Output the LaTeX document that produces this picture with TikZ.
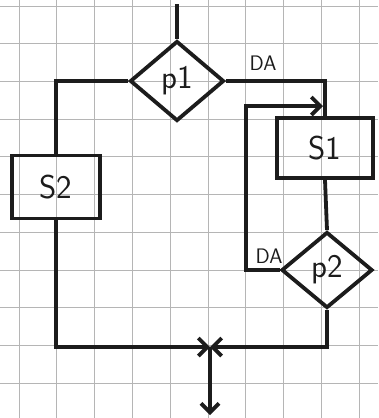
\documentclass[tikz,border=0pt]{standalone}
\usepackage{xcolor}
\usepackage{tikz}
\usetikzlibrary{arrows.meta,positioning,shapes.geometric}
\definecolor{ink}{HTML}{1C1C1C}
\definecolor{paperline}{HTML}{B5B5B5}

\begin{document}
\begin{tikzpicture}[x=1pt,y=-1pt, every node/.style={font=\sffamily\fontsize{33}{36}\selectfont,text=ink}, box/.style={draw=ink,line width=3.8pt,minimum width=94pt,minimum height=60pt}, dia/.style={diamond,draw=ink,line width=3.8pt,minimum width=94pt,minimum height=80pt,inner sep=0pt}, wire/.style={draw=ink,line width=3.8pt}, arr/.style={wire,-{Straight Barb[length=9pt,width=18pt,line width=3.8pt]}}, tag/.style={font=\sffamily\fontsize{21}{23}\selectfont}, gridln/.style={draw=paperline,line width=0.8pt}]
% paper
\fill[white] (0,0) rectangle (378,418);
\useasboundingbox (0,0) rectangle (378,418);
\foreach \x in {19,56.8,...,378} \draw[gridln] (\x,0) -- (\x,418);
\foreach \y in {6,43.7,...,418} \draw[gridln] (0,\y) -- (378,\y);
% blocks
\node[dia] (p1) at (177,81) {p1};
\node[box,minimum width=96pt] (s1) at (325,148) {S1};
\node[dia,minimum width=91pt,minimum height=76pt] (p2) at (327,270) {p2};
\node[box,minimum width=88pt,minimum height=63pt] (s2) at (56,187) {S2};
\node[tag] (da1) at (263,63) {DA};
\node[tag] (da2) at (269,256) {DA};
\coordinate (in) at (177,4);
\coordinate (j1) at (323,106);
\coordinate (m) at (210,347);
\coordinate (out) at (210,415);
% flow
\draw[wire] (in) -- (p1.north);
\draw[wire] (p1.east) -| (s1.north);
\draw[wire] (s1.south) -- (p2.north);
\draw[arr] (p2.west) -- ++(-34,0) |- (j1);
\draw[wire] (p1.west) -| (s2.north);
\draw[arr] (s2.south) |- (m);
\draw[arr] (p2.south) |- (m);
\draw[arr] (m) -- (out);
\end{tikzpicture}
\end{document}
